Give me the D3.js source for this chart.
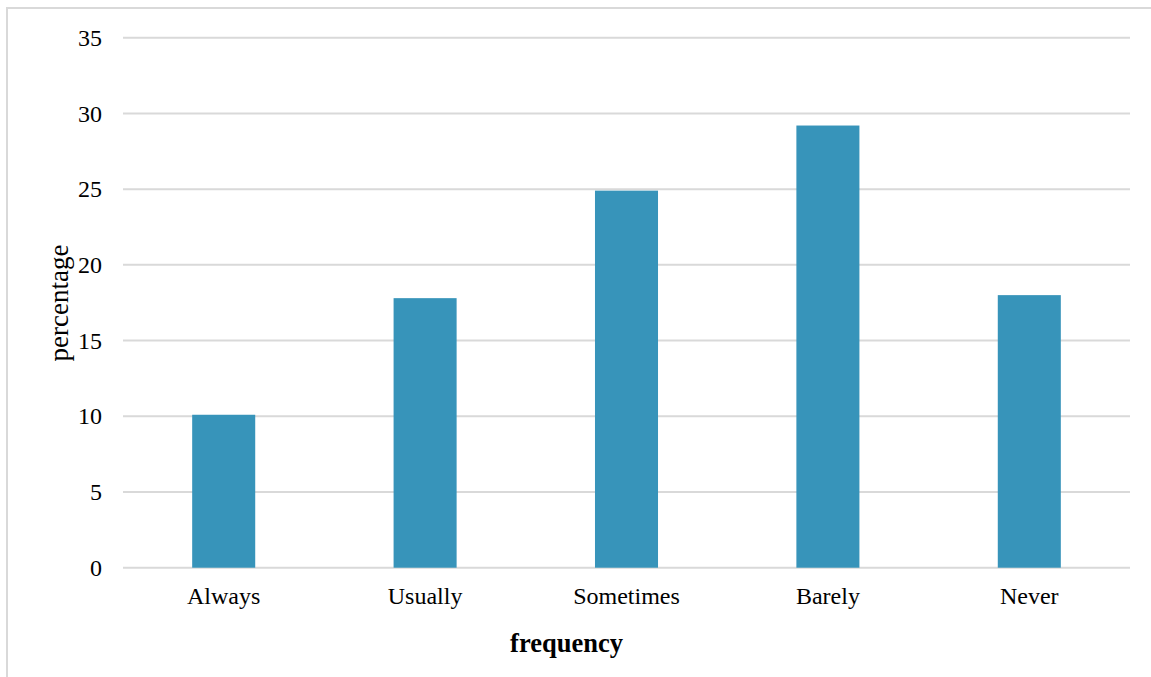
<!DOCTYPE html>
<html>
<head>
<meta charset="utf-8">
<script src="https://cdn.jsdelivr.net/npm/d3@7"></script>
<style>
  html, body { margin: 0; padding: 0; background: #fff; }
  svg { display: block; }
</style>
</head>
<body>
<svg id="chart" width="1151" height="677"></svg>
<script>
const categories = ["Always", "Usually", "Sometimes", "Barely", "Never"];
const percentages = [10.1, 17.8, 24.9, 29.2, 18.0];
const yTicks = [0, 5, 10, 15, 20, 25, 30, 35];

const svg = d3.select("#chart");
const W = 1151, H = 677;
const plot = { left: 123, right: 1130, top: 37.7, bottom: 567.7 };

// outer frame (only top and left edges fall inside the canvas)
svg.append("path")
  .attr("d", `M7,${H} L7,8 L${W},8`)
  .attr("fill", "none")
  .attr("stroke", "#d9d9d9")
  .attr("stroke-width", 2);

const x = d3.scaleBand()
  .domain(categories)
  .range([plot.left, plot.right])
  .paddingInner(0.687)
  .paddingOuter(0.3435);

const y = d3.scaleLinear()
  .domain([0, 35])
  .range([plot.bottom, plot.top]);

// horizontal gridlines
svg.append("g")
  .selectAll("line")
  .data(yTicks)
  .join("line")
  .attr("x1", plot.left)
  .attr("x2", plot.right)
  .attr("y1", d => y(d))
  .attr("y2", d => y(d))
  .attr("stroke", "#d9d9d9")
  .attr("stroke-width", 2);

// bars
svg.append("g")
  .selectAll("rect")
  .data(categories)
  .join("rect")
  .attr("x", d => x(d))
  .attr("width", x.bandwidth())
  .attr("y", (d, i) => y(percentages[i]))
  .attr("height", (d, i) => y(0) - y(percentages[i]))
  .attr("fill", "#3794ba");

const font = "'Liberation Serif', 'Times New Roman', serif";

// y tick labels
svg.append("g")
  .selectAll("text")
  .data(yTicks)
  .join("text")
  .attr("x", 102)
  .attr("y", d => y(d))
  .attr("dy", "0.34em")
  .attr("text-anchor", "end")
  .attr("font-family", font)
  .attr("font-size", 24)
  .attr("fill", "#000")
  .text(d => d);

// x category labels
svg.append("g")
  .selectAll("text")
  .data(categories)
  .join("text")
  .attr("x", d => x(d) + x.bandwidth() / 2)
  .attr("y", 604)
  .attr("text-anchor", "middle")
  .attr("font-family", font)
  .attr("font-size", 24)
  .attr("fill", "#000")
  .text(d => d);

// axis titles
svg.append("text")
  .attr("x", (plot.left + plot.right) / 2 - 60)
  .attr("y", 652)
  .attr("text-anchor", "middle")
  .attr("font-family", font)
  .attr("font-size", 26.5)
  .attr("font-weight", "bold")
  .attr("fill", "#000")
  .text("frequency");

svg.append("text")
  .attr("transform", `translate(68, 303) rotate(-90)`)
  .attr("text-anchor", "middle")
  .attr("font-family", font)
  .attr("font-size", 27)
  .attr("fill", "#000")
  .text("percentage");
</script>
</body>
</html>
